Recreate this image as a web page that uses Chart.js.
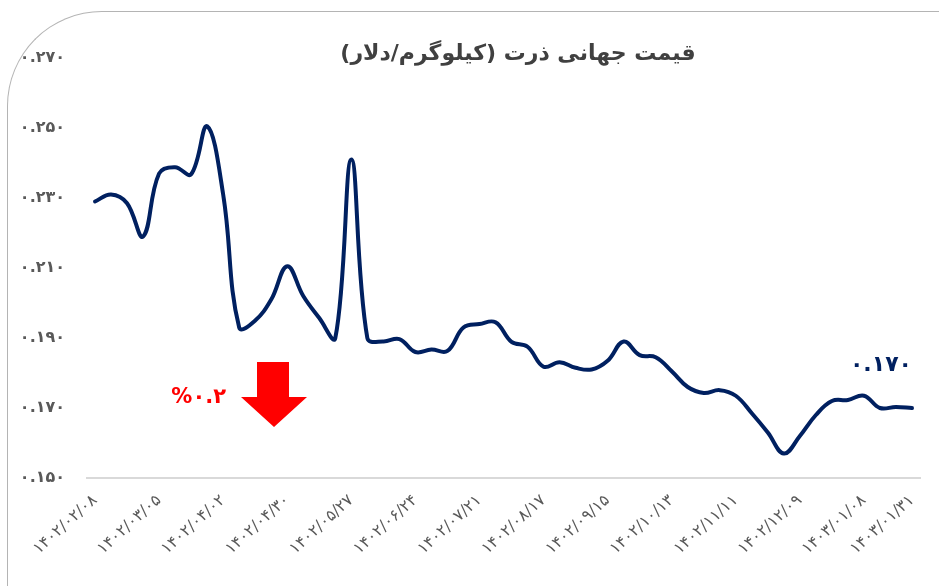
<!DOCTYPE html>
<html lang="fa">
<head>
<meta charset="utf-8">
<script src="https://cdn.jsdelivr.net/npm/chart.js@4.4.1/dist/chart.umd.min.js"></script>
<style>
  html, body { margin: 0; padding: 0; background: #fff; }
  #wrap { position: relative; width: 939px; height: 586px; overflow: hidden; }
  #frame {
    position: absolute; left: 7px; top: 11px; width: 1000px; height: 700px;
    border-top: 1.5px solid #b4b4b4; border-left: 1.5px solid #b4b4b4;
    border-top-left-radius: 95px;
  }
  #title {
    position: absolute; left: 318px; top: 40px; width: 400px; text-align: center;
    font: bold 22px "DejaVu Sans", sans-serif; color: #404040; direction: rtl;
  }
  canvas { position: absolute; left: 0; top: 0; }
</style>
</head>
<body>
<div id="wrap">
  <div id="frame"></div>
  <canvas id="grafico" width="939" height="586"></canvas>
  <div id="title">قیمت جهانی ذرت (کیلوگرم/دلار)</div>
</div>
<script>
/* ---------------- DADOS ---------------- */
const datas = [
  "۱۴۰۲/۰۲/۰۸", "۱۴۰۲/۰۲/۱۵", "۱۴۰۲/۰۲/۲۲", "۱۴۰۲/۰۲/۲۹",
  "۱۴۰۲/۰۳/۰۵", "۱۴۰۲/۰۳/۱۲", "۱۴۰۲/۰۳/۱۹", "۱۴۰۲/۰۳/۲۶",
  "۱۴۰۲/۰۴/۰۲", "۱۴۰۲/۰۴/۰۹", "۱۴۰۲/۰۴/۱۶", "۱۴۰۲/۰۴/۲۳",
  "۱۴۰۲/۰۴/۳۰", "۱۴۰۲/۰۵/۰۶", "۱۴۰۲/۰۵/۱۳", "۱۴۰۲/۰۵/۲۰",
  "۱۴۰۲/۰۵/۲۷", "۱۴۰۲/۰۶/۰۳", "۱۴۰۲/۰۶/۱۰", "۱۴۰۲/۰۶/۱۷",
  "۱۴۰۲/۰۶/۲۴", "۱۴۰۲/۰۶/۳۱", "۱۴۰۲/۰۷/۰۷", "۱۴۰۲/۰۷/۱۴",
  "۱۴۰۲/۰۷/۲۱", "۱۴۰۲/۰۷/۲۸", "۱۴۰۲/۰۸/۰۳", "۱۴۰۲/۰۸/۱۰",
  "۱۴۰۲/۰۸/۱۷", "۱۴۰۲/۰۸/۲۴", "۱۴۰۲/۰۹/۰۱", "۱۴۰۲/۰۹/۰۸",
  "۱۴۰۲/۰۹/۱۵", "۱۴۰۲/۰۹/۲۲", "۱۴۰۲/۰۹/۲۹", "۱۴۰۲/۱۰/۰۶",
  "۱۴۰۲/۱۰/۱۳", "۱۴۰۲/۱۰/۲۰", "۱۴۰۲/۱۰/۲۷", "۱۴۰۲/۱۱/۰۴",
  "۱۴۰۲/۱۱/۱۱", "۱۴۰۲/۱۱/۱۸", "۱۴۰۲/۱۱/۲۵", "۱۴۰۲/۱۲/۰۲",
  "۱۴۰۲/۱۲/۰۹", "۱۴۰۲/۱۲/۱۶", "۱۴۰۲/۱۲/۲۳", "۱۴۰۳/۰۱/۰۱",
  "۱۴۰۳/۰۱/۰۸", "۱۴۰۳/۰۱/۱۵", "۱۴۰۳/۰۱/۲۲", "۱۴۰۳/۰۱/۳۱"
];

const precos = [
  0.229, 0.231, 0.2285, 0.219, 0.237, 0.2388, 0.2368, 0.2505,
  0.231, 0.193, 0.195, 0.201, 0.2105, 0.202, 0.1957, 0.190,
  0.241, 0.190, 0.189, 0.1897, 0.186, 0.1867, 0.1863, 0.193,
  0.194, 0.1945, 0.1889, 0.1875, 0.1818, 0.1831, 0.1815, 0.181,
  0.1835, 0.189, 0.1851, 0.1845, 0.1805, 0.176, 0.1743, 0.1751,
  0.1735, 0.1685, 0.163, 0.157, 0.162, 0.168, 0.172, 0.1723,
  0.1735, 0.170, 0.1703, 0.170
];

// rotulos visiveis no eixo X
const indicesVisiveis = [0, 4, 8, 12, 16, 20, 24, 28, 32, 36, 40, 44, 48, 51];

// eixo Y
const rotulosY = ["۰.۱۵۰", "۰.۱۷۰", "۰.۱۹۰", "۰.۲۱۰", "۰.۲۳۰", "۰.۲۵۰", "۰.۲۷۰"];

const rotuloFinal = "۰.۱۷۰";
const rotuloVariacao = "%۰.۲";

const FONTE = '"DejaVu Sans", sans-serif';

/* ---------------- PLUGIN: anotacoes ---------------- */
const anotacoes = {
  id: "anotacoes",
  afterDatasetsDraw(chart) {
    const ctx = chart.ctx;
    const meta = chart.getDatasetMeta(0);
    const ultimo = meta.data[meta.data.length - 1];

    ctx.save();

    // valor final
    ctx.font = "bold 22px " + FONTE;
    ctx.fillStyle = "#002060";
    ctx.textAlign = "right";
    ctx.textBaseline = "middle";
    ctx.fillText(rotuloFinal, ultimo.x, ultimo.y - 43);

    // variacao
    ctx.font = "bold 21px " + FONTE;
    ctx.fillStyle = "#ff0000";
    ctx.fillText(rotuloVariacao, 226, 398);

    // seta vermelha
    ctx.beginPath();
    ctx.moveTo(257, 362);
    ctx.lineTo(289, 362);
    ctx.lineTo(289, 397);
    ctx.lineTo(307, 397);
    ctx.lineTo(274, 427);
    ctx.lineTo(241, 397);
    ctx.lineTo(257, 397);
    ctx.closePath();
    ctx.fill();

    ctx.restore();
  }
};

/* ---------------- GRAFICO ---------------- */
new Chart(document.querySelector("#grafico").getContext("2d"), {
  type: "line",
  data: {
    labels: datas,
    datasets: [{
      data: precos,
      borderColor: "#002060",
      borderWidth: 4,
      pointRadius: 0,
      tension: 0.4,
      fill: false,
      borderCapStyle: "round",
      borderJoinStyle: "round"
    }]
  },
  options: {
    responsive: false,
    animation: false,
    layout: { padding: { left: 7, right: 19, top: 58, bottom: 0 } },
    plugins: {
      legend: { display: false },
      tooltip: { enabled: false },
      title: { display: false }
    },
    scales: {
      x: {
        type: "category",
        offset: true,
        grid: { display: false, drawTicks: false },
        border: { display: true, color: "#d9d9d9", width: 2 },
        afterFit: s => { s.height = 108; },
        ticks: {
          autoSkip: false,
          minRotation: 42,
          maxRotation: 42,
          padding: 13,
          color: "#595959",
          font: { family: FONTE, size: 16 },
          callback: (v, i) => indicesVisiveis.includes(i) ? datas[i] : ""
        }
      },
      y: {
        min: 0.150,
        max: 0.270,
        grid: { display: false, drawTicks: false },
        border: { display: false },
        afterFit: s => { s.width = 80; },
        ticks: {
          stepSize: 0.02,
          padding: 22,
          color: "#595959",
          font: { family: FONTE, size: 16, weight: "bold" },
          callback: (v, i) => rotulosY[i]
        }
      }
    }
  },
  plugins: [anotacoes]
});
</script>
</body>
</html>
